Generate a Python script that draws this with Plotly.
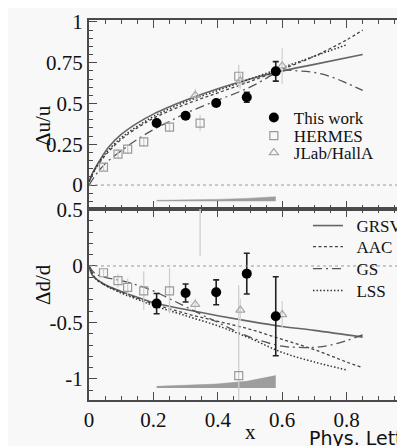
import plotly.graph_objects as go
from plotly.subplots import make_subplots

# --- measured points: Delta u / u (top panel) ---
tw_x = [0.21, 0.30, 0.395, 0.49, 0.58]
tw_du = [0.38, 0.425, 0.503, 0.538, 0.697]
tw_du_err = [0.012, 0.012, 0.012, 0.03, 0.06]

hermes_x = [0.045, 0.09, 0.12, 0.17, 0.25, 0.345, 0.465]
hermes_du = [0.11, 0.19, 0.22, 0.265, 0.355, 0.38, 0.667]
hermes_du_err = [0.02, 0.03, 0.03, 0.03, 0.03, 0.05, 0.07]

jlab_x = [0.33, 0.47, 0.60]
jlab_du = [0.55, 0.64, 0.73]
jlab_du_err = [0.04, 0.05, 0.11]

# --- measured points: Delta d / d (bottom panel) ---
tw_dd = [-0.333, -0.239, -0.233, -0.068, -0.445]
tw_dd_err = [0.09, 0.08, 0.11, 0.18, 0.35]

hermes_dd = [-0.06, -0.13, -0.19, -0.22, -0.22, 0.62, -0.97]
hermes_dd_err = [0.03, 0.06, 0.08, 0.17, 0.2, 0.53, 0.8]

jlab_dd = [-0.34, -0.39, -0.43]
jlab_dd_err = [0.05, 0.1, 0.12]

# --- systematic bands ---
band_x = [0.21, 0.30, 0.395, 0.49, 0.58]
band_du_base = -0.10
band_du_h = [0.006, 0.008, 0.012, 0.018, 0.028]
band_dd_base = -1.08
band_dd_h = [0.015, 0.022, 0.035, 0.06, 0.11]

# --- parametrisations ---
grsv_x = [0, 0.01, 0.03, 0.06, 0.1, 0.15, 0.2, 0.25, 0.3, 0.4, 0.5, 0.6, 0.7, 0.85]
grsv_du = [0.02, 0.07, 0.14, 0.23, 0.31, 0.38, 0.435, 0.48, 0.52, 0.59, 0.65, 0.70, 0.74, 0.80]
grsv_dd = [0, -0.08, -0.13, -0.18, -0.225, -0.277, -0.325, -0.357, -0.385, -0.44, -0.49, -0.535, -0.57, -0.63]

aac_x = [0, 0.02, 0.05, 0.1, 0.15, 0.2, 0.3, 0.4, 0.5, 0.6, 0.7, 0.8, 0.85]
aac_du = [0.02, 0.1, 0.18, 0.28, 0.35, 0.41, 0.495, 0.565, 0.635, 0.71, 0.79, 0.89, 0.95]
aac_dd = [0, -0.11, -0.17, -0.23, -0.285, -0.335, -0.42, -0.49, -0.56, -0.65, -0.74, -0.85, -0.90]

gs_x = [0, 0.02, 0.05, 0.1, 0.15, 0.2, 0.25, 0.3, 0.4, 0.5, 0.6, 0.65, 0.7, 0.75, 0.8, 0.85]
gs_du = [0, 0.06, 0.13, 0.21, 0.28, 0.34, 0.39, 0.44, 0.52, 0.6, 0.70, 0.70, 0.69, 0.665, 0.625, 0.58]
gs_dd = [0, -0.07, -0.1, -0.13, -0.17, -0.22, -0.29, -0.36, -0.5, -0.63, -0.71, -0.72, -0.72, -0.70, -0.66, -0.61]

lss_x = [0, 0.02, 0.05, 0.1, 0.15, 0.2, 0.3, 0.4, 0.5, 0.6, 0.7, 0.8]
lss_du = [0.02, 0.1, 0.19, 0.29, 0.36, 0.42, 0.51, 0.58, 0.65, 0.72, 0.79, 0.86]
lss_dd = [0, -0.11, -0.17, -0.24, -0.295, -0.35, -0.44, -0.53, -0.64, -0.765, -0.85, -0.92]

SERIF = "Liberation Serif"
AXIS = "#4a4a4a"

fig = make_subplots(rows=2, cols=1, shared_xaxes=True, vertical_spacing=0,
                    row_heights=[0.4974, 0.5026])


def add_points(row, x, y, err, style, name, legend):
    fig.add_trace(go.Scatter(
        x=x, y=y, mode="markers", name=name,
        marker=style["marker"],
        error_y=dict(type="data", array=err, **style["err"]),
        showlegend=legend is not None, legend=legend or "legend",
    ), row=row, col=1)


tw_style = {"marker": dict(symbol="circle", size=10, color="black"),
            "err": dict(color="#222", thickness=1.6, width=3)}
hermes_style = {"marker": dict(symbol="square-open", size=8, color="#9a9a9a",
                               line=dict(width=1.2)),
                "err": dict(color="#cfcfcf", thickness=1.3, width=0)}
jlab_style = {"marker": dict(symbol="triangle-up-open", size=8, color="#a8a8a8",
                             line=dict(width=1.2)),
              "err": dict(color="#d4d4d4", thickness=1.3, width=0)}

# bands at the bottom of each panel
for row, base, h in [(1, band_du_base, band_du_h), (2, band_dd_base, band_dd_h)]:
    fig.add_trace(go.Scatter(x=band_x, y=[base] * len(band_x), mode="lines",
                             line=dict(width=0), showlegend=False, hoverinfo="skip"),
                  row=row, col=1)
    fig.add_trace(go.Scatter(x=band_x, y=[base + v for v in h], mode="lines",
                             line=dict(width=0.5, color="#999"), fill="tonexty",
                             fillcolor="#9d9d9d", showlegend=False, hoverinfo="skip"),
                  row=row, col=1)

# curves
curves = [
    ("GRSV", grsv_x, grsv_du, grsv_dd, dict(color="#666", width=1.6, dash="solid"), "legend4"),
    ("AAC", aac_x, aac_du, aac_dd, dict(color="#444", width=1.3, dash="3px,2.5px"), "legend5"),
    ("GS", gs_x, gs_du, gs_dd, dict(color="#555", width=1.3, dash="9px,4px,2px,4px"), "legend6"),
    ("LSS", lss_x, lss_du, lss_dd, dict(color="#333", width=1.5, dash="1.5px,2px"), "legend7"),
]
for name, x, du, dd, line, leg in curves:
    fig.add_trace(go.Scatter(x=x, y=du, mode="lines", line=line, showlegend=False,
                             line_shape="spline"), row=1, col=1)
    fig.add_trace(go.Scatter(x=x, y=dd, mode="lines", line=line, line_shape="spline",
                             name="\u00a0\u00a0" + name, legend=leg), row=2, col=1)

add_points(1, hermes_x, hermes_du, hermes_du_err, hermes_style, "HERMES", "legend2")
add_points(1, jlab_x, jlab_du, jlab_du_err, jlab_style, "JLab/HallA", "legend3")
add_points(1, tw_x, tw_du, tw_du_err, tw_style, "This work", "legend")
add_points(2, hermes_x, hermes_dd, hermes_dd_err, hermes_style, "HERMES", None)
add_points(2, jlab_x, jlab_dd, jlab_dd_err, jlab_style, "JLab/HallA", None)
add_points(2, tw_x, tw_dd, tw_dd_err, tw_style, "This work", None)
for tr in fig.data[-3:]:
    tr.showlegend = False

for r in (1, 2):
    fig.add_hline(y=0, line=dict(color="#999", width=1, dash="dot"), row=r, col=1)

axis_common = dict(showgrid=False, zeroline=False, showline=True, linecolor=AXIS,
                   linewidth=2, mirror="allticks", ticks="inside", ticklen=8,
                   tickwidth=1.2, tickcolor=AXIS,
                   tickfont=dict(family=SERIF, size=21, color="#111"))
fig.update_xaxes(axis_common, range=[0, 1], dtick=0.2,
                 minor=dict(dtick=0.05, ticklen=4, ticks="inside", tickcolor=AXIS))
fig.update_xaxes(showticklabels=False, row=1, col=1)
fig.update_yaxes(axis_common)
fig.update_yaxes(range=[-0.147, 1.012], tickvals=[0, 0.25, 0.5, 0.75, 1],
                 ticktext=["0", "0.25", "0.5", "0.75", "1"],
                 minor=dict(dtick=0.05, ticklen=4, ticks="inside", tickcolor=AXIS),
                 row=1, col=1)
fig.update_yaxes(range=[-1.186, 0.504], tickvals=[-1, -0.5, 0, 0.5],
                 ticktext=["-1", "-0.5", "0", "0.5"],
                 minor=dict(dtick=0.1, ticklen=4, ticks="inside", tickcolor=AXIS),
                 row=2, col=1)


def legend_at(x, y):
    return dict(x=x, y=y, xanchor="left", yanchor="middle", bgcolor="rgba(0,0,0,0)",
                borderwidth=0, font=dict(family=SERIF, size=17, color="#111"),
                itemclick=False)


# legend rows placed one by one (pixel rows -> paper)
def py(p):
    return (392 - p) / 380


fig.update_layout(
    width=405, height=446,
    font=dict(family=SERIF, color="#111"),
    margin=dict(l=81, r=0, t=12, b=54),
    paper_bgcolor="#f8f8f8", plot_bgcolor="#f8f8f8",
    legend=legend_at(0.512, py(110)),
    legend2=legend_at(0.512, py(128)),
    legend3=legend_at(0.512, py(145)),
    legend4=legend_at(0.68, py(218)),
    legend5=legend_at(0.68, py(239)),
    legend6=legend_at(0.68, py(261)),
    legend7=legend_at(0.68, py(283)),
    annotations=[
        dict(text="\u0394u/u", x=-0.188, y=py(95), xref="paper", yref="paper",
             textangle=-90, showarrow=False, font=dict(family=SERIF, size=21, color="#111")),
        dict(text="\u0394d/d", x=-0.188, y=py(299), xref="paper", yref="paper",
             textangle=-90, showarrow=False, font=dict(family=SERIF, size=21, color="#111")),
        dict(text="x", x=0.5, y=py(438), xref="paper", yref="paper",
             showarrow=False, font=dict(family=SERIF, size=21, color="#111")),
        dict(text="Phys. Lett. B", x=(300 - 81) / 324, y=py(443), xref="paper",
             yref="paper", xanchor="left", showarrow=False,
             font=dict(family="DejaVu Sans", size=19, color="#111")),
    ],
)

fig.write_html("out.html")
